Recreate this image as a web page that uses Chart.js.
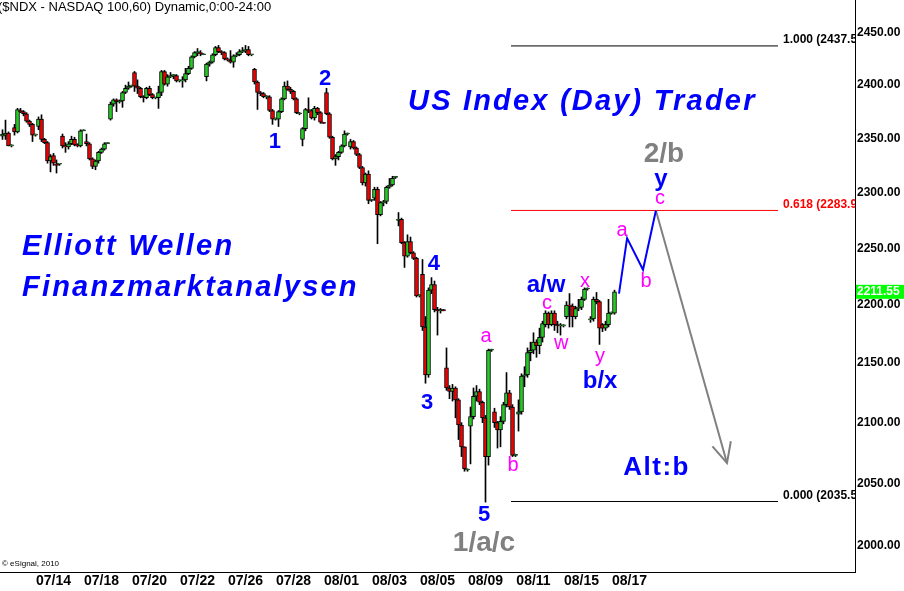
<!DOCTYPE html>
<html>
<head>
<meta charset="utf-8">
<script src="https://cdn.jsdelivr.net/npm/chart.js@4.4.1/dist/chart.umd.min.js"></script>
<style>
  html, body { margin: 0; padding: 0; background: #fff; }
  canvas { display: block; }
</style>
</head>
<body>
<canvas id="ndxChart" width="904" height="591"></canvas>
<script>
// NDX 60 min bars, 07/12 (tail) .. 08/16, one entry per bar
const opens = [
  2352,2353,2355,2343, 2360,2356,2376,2375,2373,2366,2363,2353,
  2361,2368,2349,2346,2329,2334,2326,2326,
  2352,2343,2342,2345,2349,2344,2343,2357,
  2347,2345,2331,2324,2329,2337,2340,2345,
  2368,2382,2386,2384,2385,2393,2397,2399,
  2412,2399,2397,2389,2388,2397,2391,2388,
  2388,2393,2413,2401,2408,2409,2409,2404,
  2404,2405,2411,2416,2427,2431,2431,2429,
  2408,2420,2422,2429,2436,2432,2431,2425,
  2424,2422,2428,2429,2432,2433,2434,2429,
  2415,2403,2393,2392,2389,2389,2376,2368,
  2368,2375,2387,2399,2396,2394,2387,2373,
  2349,2359,2377,2376,2369,2378,2374,2365,
  2393,2373,2351,2331,2333,2337,2343,2354,
  2342,2347,2341,2335,2323,2309,2317,2293,
  2295,2303,2280,2291,2292,2305,2307,2314,
  2275,2276,2255,2243,2256,2246,2241,2208,
  2227,2181,2140,2213,2218,2196,2195,2196,
  2146,2129,2126,2129,2119,2098,2080,2061,
  2097,2105,2122,2126,2117,2104,2072,2161,
  2109,2100,2094,2101,2115,2125,2113,2073,
  2107,2109,2139,2140,2159,2161,2168,2165,
  2172,2183,2193,2183,2193,2183,2182,2182,
  2190,2200,2199,2190,2197,2198,2205,2214,
  2187,2188,2205,2203,2183,2180,2183,2193,2193
];
const highs = [
  2358,2367,2356,2344, 2363,2378,2378,2376,2374,2367,2364,2354,
  2370,2372,2350,2347,2335,2336,2330,2326,
  2354,2346,2347,2352,2351,2345,2358,2358,
  2354,2346,2332,2330,2338,2341,2346,2346,
  2384,2387,2387,2386,2394,2400,2403,2400,
  2413,2405,2398,2390,2398,2399,2392,2388,
  2399,2414,2414,2410,2412,2410,2410,2405,
  2408,2416,2418,2428,2432,2435,2433,2430,
  2421,2423,2430,2437,2438,2433,2432,2426,
  2433,2429,2431,2434,2436,2438,2437,2429,
  2416,2404,2394,2393,2390,2390,2377,2369,
  2376,2388,2403,2404,2398,2395,2388,2374,
  2360,2378,2388,2377,2380,2379,2375,2365,
  2397,2374,2352,2335,2338,2344,2357,2355,
  2349,2348,2342,2336,2324,2318,2320,2294,
  2305,2305,2292,2293,2306,2313,2315,2315,
  2282,2277,2256,2262,2260,2247,2242,2209,
  2240,2190,2215,2224,2221,2198,2197,2196,
  2163,2131,2132,2130,2120,2100,2080,2062,
  2113,2129,2131,2128,2118,2106,2162,2162,
  2112,2101,2105,2117,2142,2127,2115,2074,
  2119,2141,2147,2163,2168,2176,2170,2180,
  2186,2195,2194,2195,2195,2186,2184,2183,
  2203,2210,2201,2199,2205,2207,2215,2215,
  2190,2207,2211,2204,2184,2186,2205,2194,2213
];
const lows = [
  2349,2349,2343,2342, 2353,2355,2374,2371,2365,2361,2347,2352,
  2358,2347,2345,2327,2319,2325,2318,2325,
  2341,2337,2340,2344,2343,2342,2342,2357,
  2343,2330,2322,2321,2327,2336,2339,2345,
  2367,2380,2375,2383,2379,2392,2396,2398,
  2394,2392,2388,2384,2387,2390,2387,2387,
  2378,2390,2400,2399,2407,2406,2403,2403,
  2398,2403,2410,2415,2426,2428,2428,2429,
  2404,2418,2421,2428,2431,2429,2424,2423,
  2421,2417,2427,2428,2431,2431,2428,2428,
  2401,2377,2390,2388,2387,2375,2363,2367,
  2361,2374,2386,2395,2392,2386,2373,2372,
  2343,2357,2374,2368,2367,2372,2364,2364,
  2372,2350,2330,2325,2330,2336,2342,2353,
  2340,2340,2334,2322,2307,2306,2290,2292,
  2293,2254,2279,2288,2290,2304,2306,2313,
  2270,2254,2233,2242,2245,2240,2207,2207,
  2178,2133,2138,2210,2194,2174,2193,2195,
  2127,2120,2118,2104,2086,2072,2060,2060,
  2066,2103,2118,2115,2100,2035,2065,2160,
  2096,2079,2080,2099,2113,2111,2072,2072,
  2093,2107,2130,2138,2152,2158,2155,2158,
  2168,2181,2180,2182,2178,2176,2174,2181,
  2188,2181,2181,2188,2195,2196,2204,2213,
  2185,2186,2201,2166,2177,2178,2181,2192,2192
];
const closes = [
  2354,2355,2343,2343, 2356,2377,2375,2373,2366,2363,2353,2353,
  2368,2349,2346,2329,2333,2327,2325,2326,
  2343,2342,2345,2349,2344,2343,2357,2358,
  2345,2331,2324,2329,2337,2340,2345,2346,
  2382,2386,2384,2385,2393,2397,2399,2399,
  2399,2397,2389,2388,2397,2391,2388,2388,
  2393,2413,2401,2408,2409,2409,2404,2404,
  2405,2411,2416,2427,2431,2431,2430,2429,
  2420,2422,2429,2436,2432,2431,2425,2424,
  2422,2428,2429,2432,2433,2434,2429,2429,
  2403,2393,2392,2389,2389,2376,2368,2368,
  2375,2387,2399,2396,2394,2387,2374,2373,
  2359,2377,2376,2369,2378,2374,2365,2364,
  2373,2351,2331,2333,2337,2343,2354,2354,
  2347,2341,2335,2323,2309,2317,2293,2293,
  2303,2280,2291,2292,2305,2307,2313,2314,
  2276,2255,2243,2256,2246,2241,2208,2208,
  2181,2140,2213,2218,2196,2195,2196,2195,
  2129,2126,2129,2119,2098,2080,2062,2061,
  2105,2122,2126,2117,2104,2072,2161,2161,
  2100,2094,2101,2115,2125,2113,2073,2073,
  2109,2139,2140,2159,2161,2168,2165,2172,
  2184,2193,2183,2193,2183,2182,2182,2182,
  2200,2199,2190,2197,2198,2205,2214,2214,
  2188,2205,2203,2180,2180,2183,2193,2193,2211.55
];

// x axis: date labels sit at these bar numbers
const dateLabels = ["07/14","07/18","07/20","07/22","07/26","07/28","08/01","08/03","08/05","08/09","08/11","08/15","08/17"];
const dateTickBars = [17, 33, 49, 65, 81, 97, 113, 129, 145, 161, 177, 193, 209];
const priceTicks = [2000, 2050, 2100, 2150, 2200, 2250, 2300, 2350, 2400, 2450];

// projected path
const projBlueBars = [205.5, 208.2, 213.5, 217.8];
const projBluePrices = [2210, 2259, 2231, 2283.9];
const projGrayBars = [217.8, 241.5];
const projGrayPrices = [2283.9, 2066.8];

// fibonacci retracement
const fibLevels = [2437.5, 2283.9, 2035.5];
const fibNames = ["1.000 (2437.50)", "0.618 (2283.90)", "0.000 (2035.50)"];
const fibColors = ["#000000", "#ff0000", "#000000"];
const fibFromBar = 169.5;
const fibToBar = 258.5;

// wave counts
const waveTexts  = ["1", "2", "3", "4", "5", "1/a/c", "2/b", "y", "c", "a", "b", "a/w", "c", "w", "x", "y", "b/x", "a", "b", "Alt:b"];
const waveBars   = [90.8, 107.5, 141.5, 143.8, 160.5, 160.5, 220.5, 219.5, 219.2, 206.5, 214.5, 181.2, 181.5, 186.2, 194.2, 199.2, 199.2, 161.2, 170.2, 217.8];
const wavePrices = [2346.6, 2405.8, 2116.4, 2236.0, 2024.7, 2002.3, 2335.5, 2312.5, 2294.3, 2266.3, 2221.0, 2217.5, 2201.0, 2167.2, 2221.0, 2155.3, 2134.9, 2172.4, 2064.3, 2062.7];
const waveKinds  = ["num", "num", "num", "num", "num", "big", "big", "blue", "pink", "pink", "pink", "blue", "pink", "pink", "pink", "pink", "blue", "pink", "pink", "alt"];

const waveStyles = {
  num:  { color: "#0000ff", font: "bold 22px 'Liberation Sans', Arial", spacing: 0 },
  blue: { color: "#0000ff", font: "bold 24px 'Liberation Sans', Arial", spacing: 0 },
  alt:  { color: "#0000ff", font: "bold 26px 'Liberation Sans', Arial", spacing: 1.5 },
  pink: { color: "#ff00ff", font: "20px 'Liberation Sans', Arial", spacing: 0 },
  big:  { color: "#808080", font: "bold 28px 'Liberation Sans', Arial", spacing: 0 }
};

const upColor = "#22cc22";
const downColor = "#ee0000";

const barIdx = opens.map((_, i) => i);

const overlayPlugin = {
  id: "overlay",
  afterDatasetsDraw(chart) {
    const { ctx, chartArea, scales } = chart;
    const xs = scales.x, ys = scales.y;
    ctx.save();

    // frame: bottom and right axis lines
    ctx.strokeStyle = "#000";
    ctx.lineWidth = 1;
    ctx.beginPath();
    ctx.moveTo(0, Math.round(chartArea.bottom) + 0.5);
    ctx.lineTo(Math.round(chartArea.right) + 0.5, Math.round(chartArea.bottom) + 0.5);
    ctx.lineTo(Math.round(chartArea.right) + 0.5, 0);
    ctx.stroke();

    // arrow head on the gray projection
    const n = projGrayBars.length;
    const x1 = xs.getPixelForValue(projGrayBars[n - 2]), y1 = ys.getPixelForValue(projGrayPrices[n - 2]);
    const x2 = xs.getPixelForValue(projGrayBars[n - 1]), y2 = ys.getPixelForValue(projGrayPrices[n - 1]);
    const ang = Math.atan2(y2 - y1, x2 - x1);
    ctx.strokeStyle = "#808080";
    ctx.lineWidth = 2;
    ctx.beginPath();
    ctx.moveTo(x2 - 22 * Math.cos(ang - 0.45), y2 - 22 * Math.sin(ang - 0.45));
    ctx.lineTo(x2, y2);
    ctx.lineTo(x2 - 22 * Math.cos(ang + 0.45), y2 - 22 * Math.sin(ang + 0.45));
    ctx.stroke();

    // fib labels (cut at the price axis)
    ctx.save();
    ctx.beginPath();
    ctx.rect(chartArea.left, chartArea.top, chartArea.right - chartArea.left, chartArea.bottom - chartArea.top);
    ctx.clip();
    ctx.font = "bold 12px 'Liberation Sans', Arial";
    ctx.textBaseline = "middle";
    ctx.textAlign = "left";
    fibLevels.forEach((lv, i) => {
      ctx.fillStyle = fibColors[i];
      ctx.fillText(fibNames[i], xs.getPixelForValue(fibToBar) + 5, ys.getPixelForValue(lv) - 6);
    });
    ctx.restore();

    // wave labels
    ctx.textAlign = "center";
    ctx.textBaseline = "middle";
    waveTexts.forEach((t, i) => {
      const st = waveStyles[waveKinds[i]];
      ctx.font = st.font;
      ctx.fillStyle = st.color;
      ctx.letterSpacing = st.spacing + "px";
      ctx.fillText(t, xs.getPixelForValue(waveBars[i]) + st.spacing / 2, ys.getPixelForValue(wavePrices[i]));
    });
    ctx.letterSpacing = "0px";

    // headline texts
    ctx.textAlign = "left";
    ctx.textBaseline = "alphabetic";
    ctx.fillStyle = "#0000ff";
    ctx.font = "italic bold 29px 'Liberation Sans', Arial";
    ctx.letterSpacing = "2.2px";
    ctx.fillText("US Index (Day) Trader", 408, 110);
    ctx.fillText("Elliott Wellen", 22, 255);
    ctx.fillText("Finanzmarktanalysen", 22, 296);
    ctx.letterSpacing = "0px";

    // title and copyright
    ctx.fillStyle = "#000";
    ctx.font = "13px 'Liberation Sans', Arial";
    ctx.fillText("($NDX - NASDAQ 100,60) Dynamic,0:00-24:00", -2, 11);
    ctx.font = "8px 'Liberation Sans', Arial";
    ctx.fillText("\u00a9 eSignal, 2010", 2, 566);

    // last price box
    const last = closes[closes.length - 1];
    const ly = ys.getPixelForValue(last);
    ctx.fillStyle = "#00ff00";
    ctx.fillRect(chartArea.right + 1, ly - 7, 904 - chartArea.right, 14);
    ctx.fillStyle = "#ffffff";
    ctx.font = "bold 12px 'Liberation Sans', Arial";
    ctx.textBaseline = "middle";
    ctx.fillText(last.toFixed(2), chartArea.right + 2, ly);

    ctx.restore();
  }
};

const ctx = document.getElementById("ndxChart").getContext("2d");
new Chart(ctx, {
  type: "bar",
  data: {
    datasets: [
      {
        type: "line",
        data: projBlueBars.map((b, i) => ({ x: b, y: projBluePrices[i] })),
        borderColor: "#0000ff",
        borderWidth: 2,
        pointRadius: 0,
        order: 0
      },
      {
        type: "line",
        data: projGrayBars.map((b, i) => ({ x: b, y: projGrayPrices[i] })),
        borderColor: "#808080",
        borderWidth: 2,
        pointRadius: 0,
        order: 0
      },
      ...fibLevels.map((lv, i) => ({
        type: "line",
        data: [{ x: fibFromBar, y: lv }, { x: fibToBar, y: lv }],
        borderColor: fibColors[i],
        borderWidth: 1,
        pointRadius: 0,
        order: 3
      })),
      {
        // wicks
        data: barIdx.map(i => ({ x: i, y: [lows[i], highs[i]] })),
        backgroundColor: "#000000",
        barThickness: 1,
        grouped: false,
        order: 2
      },
      {
        // bodies
        data: barIdx.map(i => ({ x: i, y: [opens[i], closes[i]] })),
        backgroundColor: barIdx.map(i => closes[i] >= opens[i] ? upColor : downColor),
        borderColor: "#000000",
        borderWidth: 1,
        borderSkipped: false,
        barThickness: 4,
        minBarLength: 1,
        grouped: false,
        order: 1
      }
    ]
  },
  options: {
    responsive: false,
    animation: false,
    devicePixelRatio: 1,
    layout: { padding: 0 },
    plugins: {
      legend: { display: false },
      tooltip: { enabled: false }
    },
    scales: {
      x: {
        type: "linear",
        min: -2.5 / 3,
        max: 284.1667,
        offset: false,
        grid: { display: false, drawTicks: false },
        border: { display: true, color: "#000000", width: 1 },
        afterBuildTicks: (scale) => { scale.ticks = dateTickBars.map(v => ({ value: v })); },
        afterFit: (scale) => {
          scale.height = 19;
          scale.paddingLeft = 0;
          scale.paddingRight = 0;
        },
        ticks: {
          autoSkip: false,
          maxRotation: 0,
          padding: 1,
          color: "#000000",
          font: { family: "'Liberation Sans Narrow', 'Liberation Sans', Arial", size: 14, weight: "bold" },
          callback: (v, i) => dateLabels[i]
        }
      },
      y: {
        type: "logarithmic",
        position: "right",
        min: 1979.5,
        max: 2482.2,
        grid: { display: false, drawTicks: false },
        border: { display: true, color: "#000000", width: 1 },
        afterBuildTicks: (scale) => { scale.ticks = priceTicks.map(v => ({ value: v })); },
        afterFit: (scale) => {
          scale.width = 49;
          scale.paddingTop = 0;
          scale.paddingBottom = 0;
        },
        ticks: {
          padding: 2,
          color: "#000000",
          font: { family: "'Liberation Sans', Arial", size: 12, weight: "bold" },
          callback: (v) => Number(v).toFixed(2)
        }
      }
    }
  },
  plugins: [overlayPlugin]
});
</script>
</body>
</html>
